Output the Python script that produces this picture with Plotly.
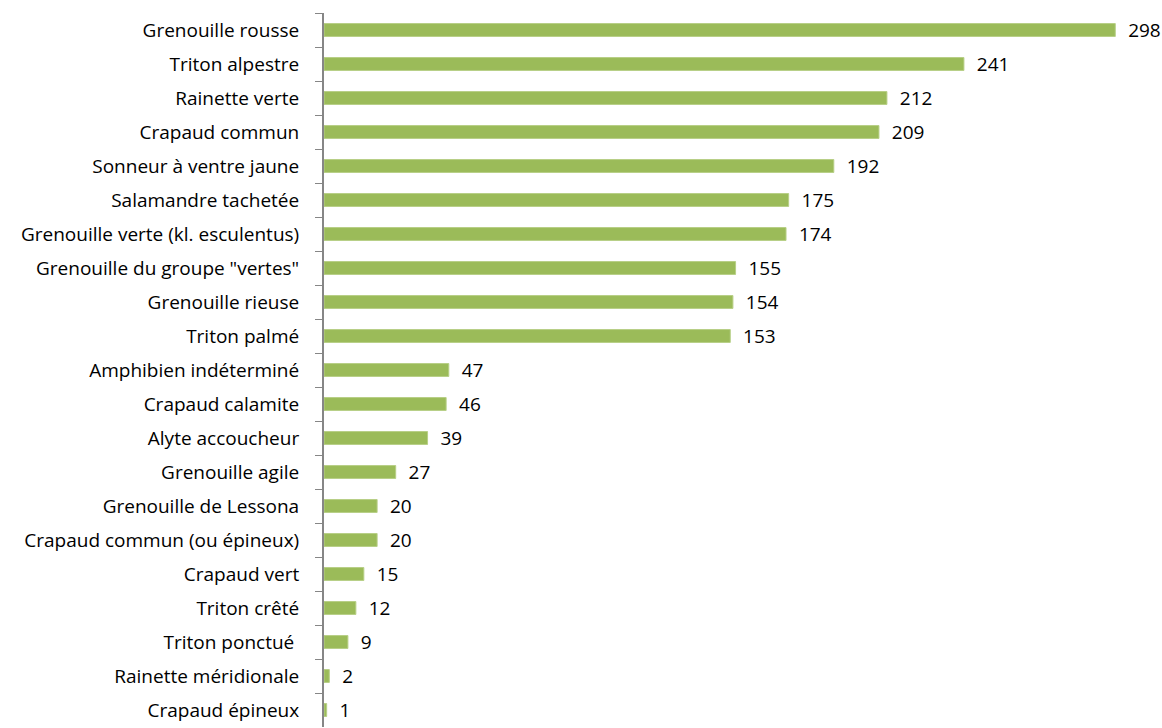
import plotly.graph_objects as go

categories = [
    "Grenouille rousse", "Triton alpestre", "Rainette verte", "Crapaud commun",
    "Sonneur à ventre jaune", "Salamandre tachetée", "Grenouille verte (kl. esculentus)",
    "Grenouille du groupe \"vertes\"", "Grenouille rieuse", "Triton palmé",
    "Amphibien indéterminé", "Crapaud calamite", "Alyte accoucheur", "Grenouille agile",
    "Grenouille de Lessona", "Crapaud commun (ou épineux)", "Crapaud vert",
    "Triton crêté", "Triton ponctué ", "Rainette méridionale", "Crapaud épineux",
]
values = [298, 241, 212, 209, 192, 175, 174, 155, 154, 153, 47, 46, 39, 27, 20, 20, 15, 12, 9, 2, 1]

FONT = "Open Sans"
FSIZE = 19

fig = go.Figure(go.Bar(
    x=values,
    y=categories,
    orientation="h",
    marker=dict(color="#9BBB59", line=dict(color="#B7CF86", width=1)),
    text=["\u00a0\u00a0" + str(v) for v in values],
    textposition="outside",
    constraintext="none",
    textfont=dict(family=FONT, size=FSIZE, color="#000000"),
    cliponaxis=False,
    hoverinfo="skip",
))

fig.update_layout(
    width=1162, height=728,
    margin=dict(l=324, r=0, t=13, b=1, autoexpand=False),
    paper_bgcolor="white", plot_bgcolor="white",
    bargap=0.62,
    showlegend=False,
    font=dict(family=FONT, size=FSIZE, color="#000000"),
    xaxis=dict(range=[0, 315.6], visible=False, fixedrange=True, automargin=False),
    yaxis=dict(
        autorange="reversed",
        automargin=False,
        fixedrange=True,
        showline=True, linecolor="#868686", linewidth=2,
        ticks="outside", ticklen=7, tickcolor="#868686", tickwidth=1,
        tickson="boundaries",
        ticklabelstandoff=19,
        showgrid=False,
        tickfont=dict(family=FONT, size=FSIZE, color="#000000"),
    ),
)

fig.write_html(
    "out.html",
    config={"displayModeBar": False},
    post_script="document.body.style.margin='0';document.body.style.overflow='hidden';",
)
